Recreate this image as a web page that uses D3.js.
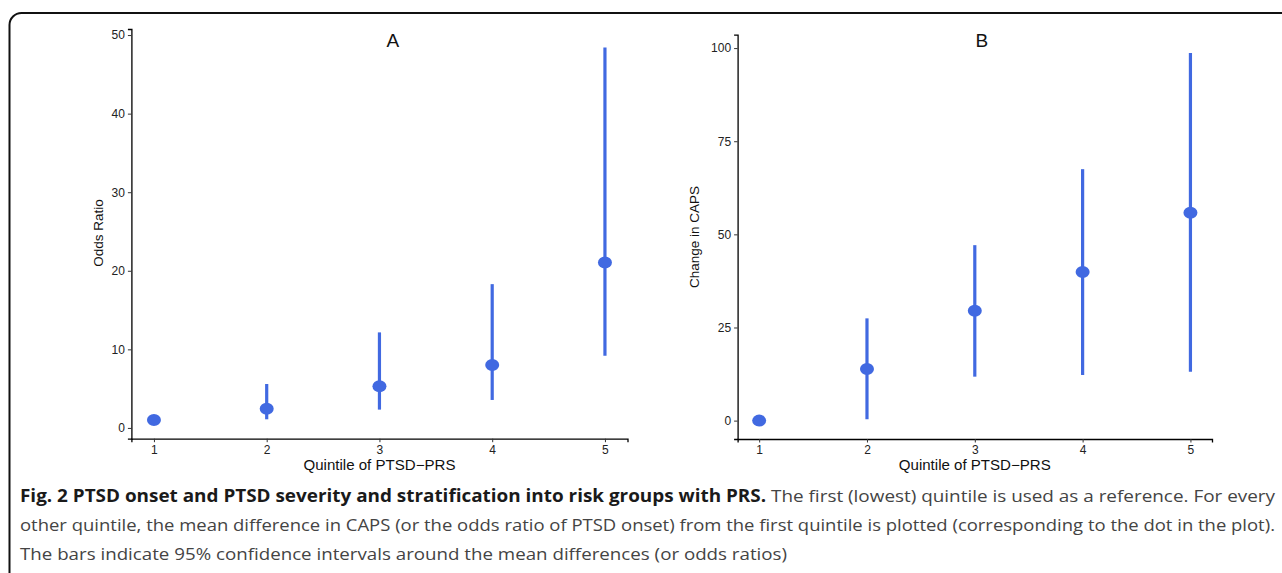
<!DOCTYPE html>
<html>
<head>
<meta charset="utf-8">
<script src="https://cdn.jsdelivr.net/npm/d3@7"></script>
<style>
  body { margin: 0; background: #fff; }
  svg { display: block; }
</style>
</head>
<body>
<script>
// quintiles on the x axis
var quintiles = [1, 2, 3, 4, 5];

// panel A: odds ratio of PTSD onset, with 95% CI
var orEst = [1.0, 2.45, 5.3, 8.0, 21.05];
var orLow = [1.0, 1.1, 2.33, 3.56, 9.19];
var orHigh = [1.0, 5.59, 12.16, 18.3, 48.4];
var orTicks = [0, 10, 20, 30, 40, 50];

// panel B: change in CAPS, with 95% CI
var capsEst = [0, 13.86, 29.5, 39.87, 55.8];
var capsLow = [0, 0.37, 11.8, 12.25, 13.1];
var capsHigh = [0, 27.45, 47.1, 67.5, 98.66];
var capsTicks = [0, 25, 50, 75, 100];

var W = 1282, H = 573;
var blue = "#4169E1";
var sans = "Liberation Sans, Arial, sans-serif";

var svg = d3.select("body").append("svg")
    .attr("width", W)
    .attr("height", H);

// rounded frame around the figure
svg.append("rect")
    .attr("x", 9.5).attr("y", 13)
    .attr("width", W + 20).attr("height", H + 20)
    .attr("rx", 12).attr("ry", 12)
    .attr("fill", "none")
    .attr("stroke", "#111")
    .attr("stroke-width", 2);

// ggplot-style 5% expansion of a continuous range
function expand(lo, hi) {
  var d = (hi - lo) * 0.05;
  return [lo - d, hi + d];
}

function panel(opt) {
  var x = d3.scaleLinear()
      .domain(expand(d3.min(quintiles), d3.max(quintiles)))
      .range([opt.left, opt.right]);
  var y = d3.scaleLinear()
      .domain(expand(d3.min(opt.low), d3.max(opt.high)))
      .range([opt.bottom, opt.top]);

  var g = svg.append("g");

  // y axis
  var ya = g.append("g")
      .attr("transform", "translate(" + opt.left + ",0)")
      .call(d3.axisLeft(y).tickValues(opt.ticks).tickFormat(d3.format("d"))
        .tickSize(3.5).tickPadding(3));
  // x axis
  var xa = g.append("g")
      .attr("transform", "translate(0," + opt.bottom + ")")
      .call(d3.axisBottom(x).tickValues(quintiles).tickFormat(d3.format("d"))
        .tickSize(3.5).tickPadding(3));

  [ya, xa].forEach(function(a) {
    a.select(".domain").attr("stroke", "#000").attr("stroke-width", 1.3);
    a.selectAll(".tick line").attr("stroke", "#333").attr("stroke-width", 1);
    a.selectAll(".tick text")
        .attr("fill", "#222")
        .style("font-family", sans)
        .style("font-size", "12px");
  });

  // confidence intervals
  g.selectAll(".ci")
      .data(quintiles.filter(function(q, i) { return opt.high[i] > opt.low[i]; }))
    .enter().append("line")
      .attr("x1", function(d) { return x(d); })
      .attr("x2", function(d) { return x(d); })
      .attr("y1", function(d) { return y(opt.low[d - 1]); })
      .attr("y2", function(d) { return y(opt.high[d - 1]); })
      .attr("stroke", blue)
      .attr("stroke-width", 3.2);

  // point estimates (the source figure is slightly stretched sideways)
  g.selectAll(".pt")
      .data(quintiles)
    .enter().append("ellipse")
      .attr("cx", function(d) { return x(d); })
      .attr("cy", function(d, i) { return y(opt.est[i]); })
      .attr("rx", 7)
      .attr("ry", 6)
      .attr("fill", blue);

  // panel letter
  g.append("text")
      .attr("x", (opt.left + opt.right) / 2 + opt.letterShift)
      .attr("y", 47)
      .attr("text-anchor", "middle")
      .style("font-family", sans)
      .style("font-size", "19px")
      .attr("fill", "#111")
      .text(opt.letter);

  // axis titles
  g.append("text")
      .attr("x", x(3) - 76)
      .attr("y", 470)
      .attr("textLength", 152)
      .attr("lengthAdjust", "spacingAndGlyphs")
      .style("font-family", sans)
      .style("font-size", "14px")
      .attr("fill", "#111")
      .text("Quintile of PTSD\u2212PRS");

  g.append("text")
      .attr("transform", "translate(" + opt.ylabX + "," + opt.ylabY + ") rotate(-90)")
      .attr("text-anchor", "middle")
      .style("font-family", sans)
      .style("font-size", "13.5px")
      .attr("fill", "#111")
      .text(opt.ylab);
}

panel({
  left: 131.4, right: 627.5, top: 29, bottom: 438.7,
  est: orEst, low: orLow, high: orHigh, ticks: orTicks,
  letter: "A", letterShift: 13.5,
  ylab: "Odds Ratio", ylabX: 103, ylabY: 233
});

panel({
  left: 737.6, right: 1212, top: 34.7, bottom: 439,
  est: capsEst, low: capsLow, high: capsHigh, ticks: capsTicks,
  letter: "B", letterShift: 7,
  ylab: "Change in CAPS", ylabX: 699, ylabY: 237
});

// caption
var cap = svg.append("g")
    .style("font-family", "Open Sans, sans-serif")
    .style("font-size", "17px");

var l1 = cap.append("text").attr("x", 20).attr("y", 502)
    .attr("textLength", 1255).attr("lengthAdjust", "spacingAndGlyphs");
l1.append("tspan").attr("font-weight", "bold").attr("fill", "#1a1a1a")
    .text("Fig. 2 PTSD onset and PTSD severity and stratification into risk groups with PRS.");
l1.append("tspan").attr("fill", "#444")
    .text(" The first (lowest) quintile is used as a reference. For every");

cap.append("text").attr("x", 20).attr("y", 531)
    .attr("textLength", 1255).attr("lengthAdjust", "spacingAndGlyphs")
    .attr("fill", "#444")
    .text("other quintile, the mean difference in CAPS (or the odds ratio of PTSD onset) from the first quintile is plotted (corresponding to the dot in the plot).");

cap.append("text").attr("x", 20).attr("y", 560)
    .attr("textLength", 767).attr("lengthAdjust", "spacingAndGlyphs")
    .attr("fill", "#444")
    .text("The bars indicate 95% confidence intervals around the mean differences (or odds ratios)");
</script>
</body>
</html>
